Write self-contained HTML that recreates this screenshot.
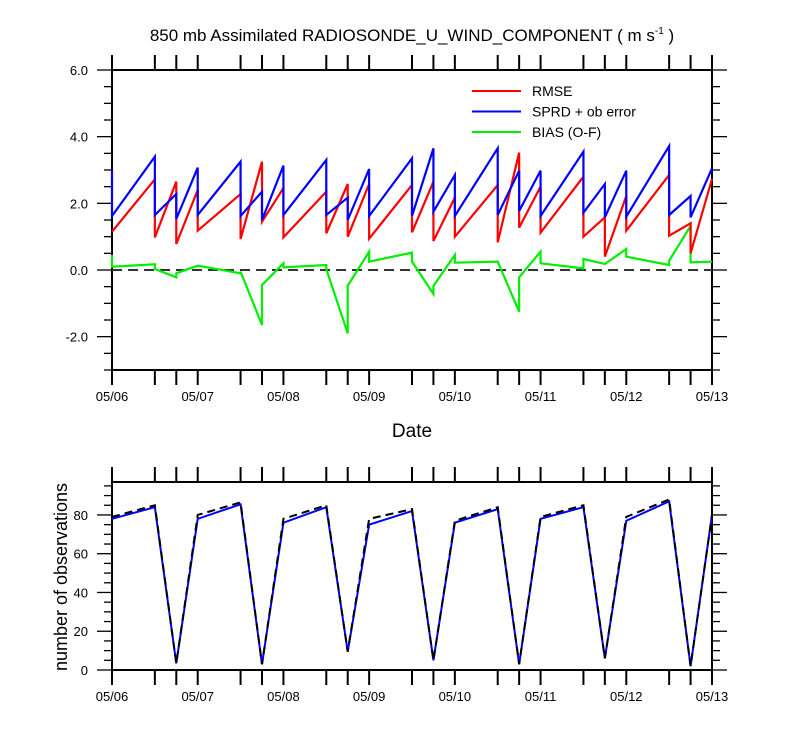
<!DOCTYPE html>
<html><head><meta charset="utf-8"><style>
body{margin:0;background:#fff;}
svg{display:block;font-family:"Liberation Sans",Arial,sans-serif;}
</style></head><body>
<svg id="c" width="800" height="750" xmlns="http://www.w3.org/2000/svg"></svg>
<script>
const dayOffsets=[0,0.5,0.75];
const dateLabels=["05/06","05/07","05/08","05/09","05/10","05/11","05/12","05/13"];
const rmseHigh=[1.15,2.72,2.65,2.4,2.28,3.25,2.46,2.35,2.58,2.58,2.55,2.65,2.17,2.55,3.52,2.5,2.8,1.58,2.22,2.85,1.4,2.73];
const rmseLow=[1.15,0.98,0.78,1.18,0.93,1.45,0.98,1.1,1.0,0.94,1.13,0.87,1.0,0.83,1.27,1.12,1.0,0.4,1.18,1.03,0.5,2.73];
const sprdHigh=[3.0,3.4,2.28,3.07,3.25,2.35,3.13,3.3,2.17,3.03,3.35,3.65,2.85,3.65,2.98,2.98,3.55,2.58,2.98,3.72,2.22,3.05];
const sprdLow=[1.62,1.65,1.53,1.65,1.62,1.5,1.65,1.65,1.5,1.62,1.62,1.75,1.62,1.65,1.77,1.62,1.72,1.58,1.6,1.65,1.58,3.05];
const biasHigh=[0.45,0.17,-0.22,0.13,-0.1,-1.65,0.2,0.15,-1.9,0.55,0.52,-0.72,0.45,0.25,-1.25,0.55,0.05,0.18,0.63,0.15,1.32,0.25];
const biasLow=[0.1,0.03,-0.1,0.13,-0.05,-0.45,0.08,0.03,-0.47,0.25,0.25,-0.48,0.22,0.25,-0.22,0.2,0.33,0.18,0.4,0.28,0.23,0.25];
const obsUsed=[78,84,3.4,78,85.5,3,76,84,9.5,75,82,5,76,83,3,78,84,6,77,87,2,80];
const obsTotal=[79,85,3.4,80,86.5,3,78,85,9.5,78,83,5,77,84,3,79,85,6,79,88,2,80];
const topTicks=[6,4,2,0,-2];
const topTickLabels=["6.0","4.0","2.0","0.0","-2.0"];
const botTicks=[0,20,40,60,80];

const S=document.getElementById('c');
const NS="http://www.w3.org/2000/svg";
function mk(tag,attrs,parent){const e=document.createElementNS(NS,tag);for(const k in attrs)e.setAttribute(k,attrs[k]);(parent||S).appendChild(e);return e;}
const times=[];for(let d=0;d<7;d++)for(const o of dayOffsets)times.push(d+o);times.push(7);
const X0=112,X1=712;
const xs=t=>X0+t/7*(X1-X0);
const yTop=v=>70+(6-v)/9*300;
const yBot=v=>670-v/97*(670-482);

// title
let t=mk('text',{x:412,y:41,'text-anchor':'middle','font-size':17});

t.innerHTML='850 mb Assimilated RADIOSONDE_U_WIND_COMPONENT ( m s<tspan dy="-7" font-size="10">-1</tspan><tspan dy="7"> )</tspan>';

function panel(top,bot,yfn,ticks,labels,minorStep,minV,maxV,name){
  const g=mk('g',{});
  
  mk('rect',{x:X0,y:top,width:X1-X0,height:bot-top,fill:'none',stroke:'#000','stroke-width':2},g);
  times.forEach(tt=>{const x=xs(tt);
    mk('line',{x1:x,x2:x,y1:top,y2:top-15,stroke:'#000','stroke-width':2},g);
    mk('line',{x1:x,x2:x,y1:bot,y2:bot+15,stroke:'#000','stroke-width':2},g);});
  for(let v=minV;v<=maxV+1e-6;v+=minorStep){const y=yfn(v);
    const maj=ticks.some(tk=>Math.abs(tk-v)<1e-6);const L=maj?15:8;
    mk('line',{x1:X0,x2:X0-L,y1:y,y2:y,stroke:'#000','stroke-width':1.3},g);
    mk('line',{x1:X1,x2:X1+L,y1:y,y2:y,stroke:'#000','stroke-width':1.3},g);}
  ticks.forEach((v,i)=>{const e=mk('text',{x:88,y:yfn(v)+5,'text-anchor':'end','font-size':13},g);e.textContent=labels[i];
    });
  dateLabels.forEach((d,i)=>{const e=mk('text',{x:xs(i),y:bot+31,'text-anchor':'middle','font-size':13},g);e.textContent=d;
    });
}
panel(70,370,yTop,topTicks,topTickLabels,0.5,-3,6,'top-panel');
panel(482,670,yBot,botTicks,botTicks.map(String),5,0,95,'bottom-panel');

// zero line
let z=mk('line',{x1:X0,x2:X1,y1:yTop(0),y2:yTop(0),stroke:'#333','stroke-width':2,'stroke-dasharray':'10,6'});


function saw(hi,lo,color,name){
  let pts=[];times.forEach((tt,i)=>{pts.push(xs(tt)+','+yTop(hi[i]));pts.push(xs(tt)+','+yTop(lo[i]));});
  const p=mk('polyline',{points:pts.join(' '),fill:'none',stroke:color,'stroke-width':2.2});
  
}
saw(biasHigh,biasLow,'#00ee00','bias-line');
saw(rmseHigh,rmseLow,'#ff0000','rmse-line');
saw(sprdHigh,sprdLow,'#0000ff','sprd-line');

function line(vals,color,dash,name){
  const p=mk('polyline',{points:times.map((tt,i)=>xs(tt)+','+yBot(vals[i])).join(' '),fill:'none',stroke:color,'stroke-width':2});
  if(dash)p.setAttribute('stroke-dasharray',dash);
  
}
line(obsUsed,'#0000ff',null,'obs-used-line');
line(obsTotal,'#000','8,5','obs-total-line');

// legend
const leg=[["RMSE","#ff0000"],["SPRD + ob error","#0000ff"],["BIAS (O-F)","#00ee00"]];
leg.forEach((l,i)=>{const y=91+i*20.5;
  const g=mk('g',{});
  mk('line',{x1:472,x2:521,y1:y,y2:y,stroke:l[1],'stroke-width':2},g);
  const e=mk('text',{x:532,y:y+5,'font-size':14},g);e.textContent=l[0];});

let dx=mk('text',{x:412,y:437,'text-anchor':'middle','font-size':19});dx.textContent='Date';

let yt=mk('text',{x:0,y:0,'text-anchor':'middle','font-size':18,transform:'translate(67,577) rotate(-90)'});yt.textContent='number of observations';

</script>
</body></html>
